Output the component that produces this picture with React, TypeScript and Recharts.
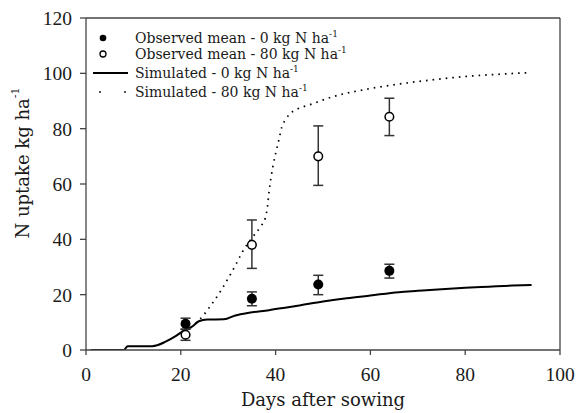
import React from 'react';
import { ComposedChart, Line, Scatter, XAxis, YAxis, ErrorBar, ReferenceLine } from 'recharts';

// Observations
const obsDays = [21, 35, 49, 64];
const obs0Mean = [9.5, 18.5, 23.7, 28.6];
const obs0Low = [7.5, 16, 20, 26];
const obs0High = [11.5, 21, 27, 31];
const obs80Mean = [5.5, 38, 70, 84.3];
const obs80Low = [3.5, 29.5, 59.5, 77.5];
const obs80High = [7.5, 47, 81, 91];

// Simulations
const sim0Days = [1, 8, 8.8, 14, 16.8, 18.9, 20.6, 22.4, 23.8, 25.6, 29.1, 31.5, 34.4, 38.6, 42, 45.3, 50, 55, 60, 66, 70, 75, 80, 85, 90, 94];
const sim0Values = [0, 0, 1.4, 1.4, 3.0, 5.0, 7.0, 8.5, 10.4, 11.0, 11.1, 12.5, 13.5, 14.4, 15.3, 16.2, 17.5, 18.7, 19.7, 20.9, 21.4, 22.0, 22.5, 22.9, 23.3, 23.5];
const sim80Days = [21, 22.5, 24.5, 26.5, 28.4, 30.2, 31.8, 33, 35, 37, 37.8, 38.3, 38.6, 39, 39.5, 40, 40.7, 41.3, 42.2, 43.1, 44.5, 47.3, 52, 59.3, 66.3, 73.3, 80.3, 87.4, 93];
const sim80Values = [6.5, 8.6, 12, 16.5, 21.3, 26.5, 31.5, 35.5, 40.5, 45, 47.5, 52, 57, 62, 67, 71, 76, 80.5, 83.5, 85.5, 87, 88.7, 91.5, 94.3, 96.2, 97.7, 98.9, 99.7, 100.2];

// Axes and labels
const xTicks = [0, 20, 40, 60, 80, 100];
const yTicks = [0, 20, 40, 60, 80, 100, 120];
const xTitle = 'Days after sowing';
const yTitle = 'N uptake kg ha';
const legendLabels = ['Observed mean - 0 kg N ha', 'Observed mean - 80 kg N ha', 'Simulated - 0 kg N ha', 'Simulated - 80 kg N ha'];

const FONT = '"DejaVu Serif", serif';
const TICK_FONT = '"Liberation Serif", "Times New Roman", serif';
const AX = '#444';
const TXT = '#1a1a1a';

const obs0 = obsDays.map((d, i) => ({ day: d, value: obs0Mean[i], err: [obs0Mean[i] - obs0Low[i], obs0High[i] - obs0Mean[i]] }));
const obs80 = obsDays.map((d, i) => ({ day: d, value: obs80Mean[i], err: [obs80Mean[i] - obs80Low[i], obs80High[i] - obs80Mean[i]] }));
const sim0 = sim0Days.map((d, i) => ({ day: d, value: sim0Values[i] }));
const sim80 = sim80Days.map((d, i) => ({ day: d, value: sim80Values[i] }));

const FilledDot = (p: any) => <circle cx={p.cx} cy={p.cy} r={5} fill="#000" />;
const OpenDot = (p: any) => <circle cx={p.cx} cy={p.cy} r={4.3} fill="#fff" stroke="#000" strokeWidth={1.5} />;

const XTitle = (p: any) => {
  const vb = p.viewBox || { x: 86, y: 350, width: 474, height: 63 };
  return (
    <text x={vb.x + vb.width / 2} y={vb.y + 56} textAnchor="middle" fontFamily={FONT} fontSize={18} fill={TXT}>
      {xTitle}
    </text>
  );
};

const YTitle = (p: any) => {
  const vb = p.viewBox || { x: 0, y: 18, width: 86, height: 332 };
  const cx = vb.x + 22;
  const cy = vb.y + vb.height / 2 - 21;
  return (
    <text x={cx} y={cy} transform={`rotate(-90, ${cx}, ${cy})`} textAnchor="middle" dominantBaseline="central" fontFamily={FONT} fontSize={18} fill={TXT}>
      {yTitle}
      <tspan dy={-7} fontSize={11}>-1</tspan>
    </text>
  );
};

const rowY = [38, 54, 73, 92];
const LegendBox = () => (
  <svg width={400} height={110} style={{ position: 'absolute', left: 0, top: 0, pointerEvents: 'none' }}>
    <circle cx={103} cy={rowY[0]} r={3.3} fill="#000" />
    <circle cx={103} cy={rowY[1]} r={3} fill="#fff" stroke="#000" strokeWidth={1.3} />
    <line x1={93} x2={128} y1={rowY[2]} y2={rowY[2]} stroke="#000" strokeWidth={2} />
    <circle cx={100} cy={rowY[3]} r={0.9} fill="#000" />
    <circle cx={125} cy={rowY[3]} r={0.9} fill="#000" />
    {legendLabels.map((t, i) => (
      <text key={t} x={135} y={rowY[i] + 5} fontFamily={FONT} fontSize={14} fill={TXT}>
        {t}
        <tspan dy={-6} fontSize={9}>-1</tspan>
      </text>
    ))}
  </svg>
);

export default function App() {
  return (
    <div style={{ position: 'fixed', left: 0, top: 0, width: 577, height: 413, background: '#fff' }}>
      <ComposedChart width={577} height={413} margin={{ top: 18, right: 17, bottom: 0, left: 0 }}>
        <XAxis
          type="number"
          dataKey="day"
          domain={[0, 100]}
          ticks={xTicks}
          allowDataOverflow
          height={63}
          tickSize={5}
          tickMargin={12}
          tick={{ fill: TXT, fontSize: 19.5, fontFamily: TICK_FONT }}
          axisLine={{ stroke: AX, strokeWidth: 1.3 }}
          tickLine={{ stroke: AX, strokeWidth: 1.3 }}
          label={<XTitle />}
        />
        <YAxis
          type="number"
          domain={[0, 120]}
          ticks={yTicks}
          allowDataOverflow
          width={86}
          tickSize={6}
          tickMargin={8}
          tick={{ fill: TXT, fontSize: 19.5, fontFamily: TICK_FONT }}
          axisLine={{ stroke: AX, strokeWidth: 1.3 }}
          tickLine={{ stroke: AX, strokeWidth: 1.3 }}
          label={<YTitle />}
        />
        <ReferenceLine y={120} stroke={AX} strokeWidth={1.3} />
        <ReferenceLine x={100} stroke={AX} strokeWidth={1.3} />
        <Line data={sim0} dataKey="value" type="monotone" stroke="#000" strokeWidth={2} dot={false} isAnimationActive={false} name="sim0" />
        <Line data={sim80} dataKey="value" type="monotone" stroke="#000" strokeWidth={1.7} strokeDasharray="1.6 5" dot={false} isAnimationActive={false} name="sim80" />
        <Scatter data={obs80} dataKey="value" shape={OpenDot} isAnimationActive={false} name="obs80">
          <ErrorBar dataKey="err" direction="y" width={5} stroke="#333" strokeWidth={1.5} />
        </Scatter>
        <Scatter data={obs0} dataKey="value" shape={FilledDot} isAnimationActive={false} name="obs0">
          <ErrorBar dataKey="err" direction="y" width={5} stroke="#333" strokeWidth={1.5} />
        </Scatter>
      </ComposedChart>
      <LegendBox />
    </div>
  );
}
